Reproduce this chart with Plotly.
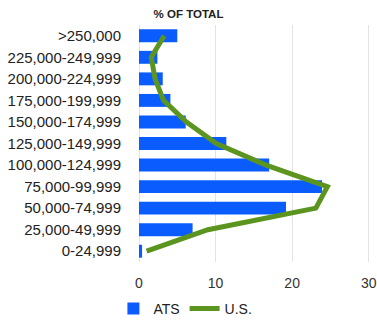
import plotly.graph_objects as go

categories = ["0-24,999", "25,000-49,999", "50,000-74,999", "75,000-99,999",
              "100,000-124,999", "125,000-149,999", "150,000-174,999",
              "175,000-199,999", "200,000-224,999", "225,000-249,999", ">250,000"]
ats = [0.4, 7.0, 19.2, 23.9, 17.0, 11.4, 6.1, 4.1, 3.1, 2.4, 5.0]
us = [1.0, 9.0, 23.1, 24.6, 16.6, 10.1, 6.2, 3.2, 2.1, 1.6, 3.3]
x_ticks = [0, 10, 20, 30]

FONT = "Liberation Sans, Arial, sans-serif"

fig = go.Figure()
fig.add_trace(go.Bar(
    y=categories, x=ats, orientation="h", name="ATS",
    marker=dict(color="#0A5CFF", line=dict(width=0)),
))
fig.add_trace(go.Scatter(
    y=categories, x=us, mode="lines", name="U.S.",
    line=dict(color="#5B951F", width=5, shape="linear"),
))

fig.update_layout(
    width=377, height=320,
    margin=dict(l=139, r=6, t=25, b=58, autoexpand=False),
    paper_bgcolor="white", plot_bgcolor="white",
    font=dict(family=FONT, color="#222222"),
    bargap=0.4,
    showlegend=True,
    title=dict(text="<b>% OF TOTAL</b>", x=0.5, xref="container", xanchor="center",
               y=1 - 14 / 320, yref="container", yanchor="middle",
               font=dict(size=11.5, color="#222222", family=FONT)),
    legend=dict(orientation="h", x=0.2, xanchor="center",
                y=-0.198, yanchor="middle", font=dict(size=14, color="#222222"),
                itemwidth=30, traceorder="normal"),
    xaxis=dict(range=[0, 30.3], tickvals=x_ticks, showgrid=True, gridcolor="#e3e3e3",
               zeroline=True, zerolinecolor="#e3e3e3", zerolinewidth=1,
               tickfont=dict(size=14, color="#333333"), ticks="outside",
               ticklen=8, tickcolor="rgba(0,0,0,0)", fixedrange=True, automargin=False),
    yaxis=dict(categoryorder="array", categoryarray=categories,
               tickfont=dict(size=15, color="#222222"), ticks="outside",
               ticklen=14, tickcolor="rgba(0,0,0,0)", showgrid=False,
               range=[-0.5, 10.5], automargin=False),
)

fig.write_html("out.html")
